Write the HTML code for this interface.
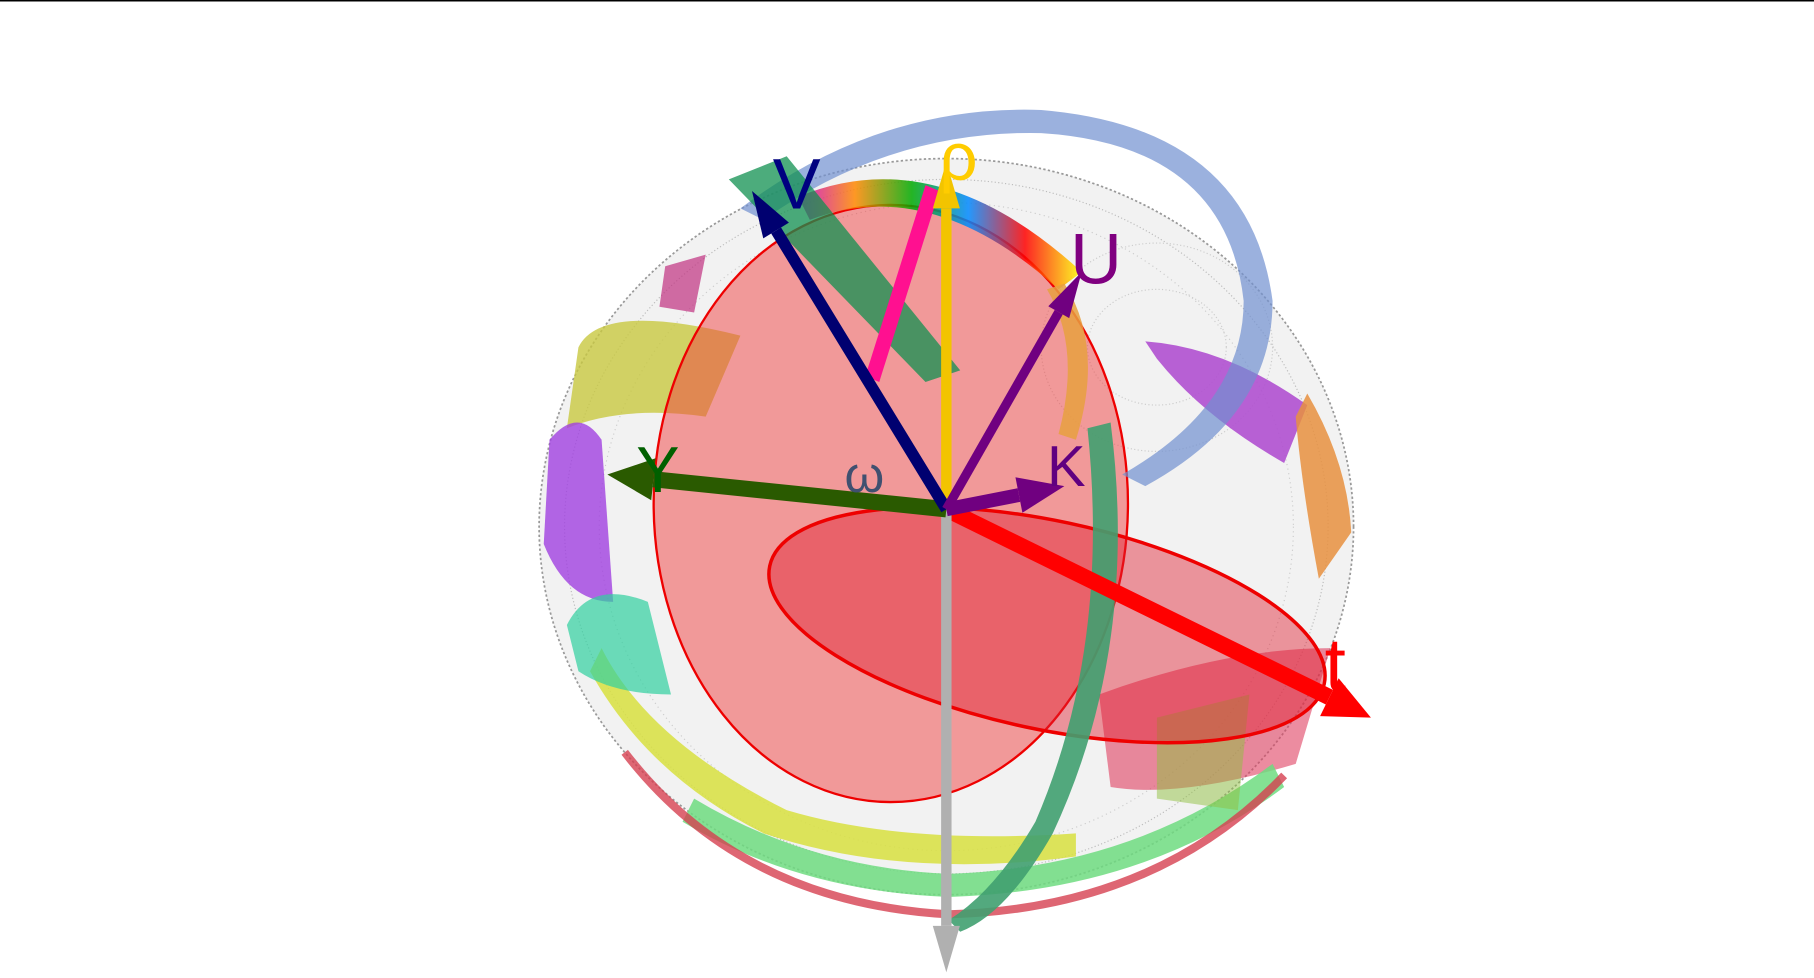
<!DOCTYPE html>
<html><head><meta charset="utf-8"><style>
html,body{margin:0;padding:0;background:#fff;width:1814px;height:978px;overflow:hidden}
svg{display:block}
text{font-family:"Liberation Sans",sans-serif}
</style></head><body>
<svg id="chart" width="1814" height="978" viewBox="0 0 1568 845" preserveAspectRatio="none" xmlns="http://www.w3.org/2000/svg">
<defs>
<linearGradient id="rb" x1="0" x2="1"><stop offset="0" stop-color="#c0c"/><stop offset=".2" stop-color="#f80"/><stop offset=".4" stop-color="#0a0"/><stop offset=".6" stop-color="#08f"/><stop offset=".8" stop-color="#f00"/><stop offset="1" stop-color="#ff0"/></linearGradient>
</defs>
<line x1="0" y1="0.5" x2="1568" y2="0.5" stroke="#000" stroke-width="1.5"/>
<g id="sphere">
<ellipse cx="818" cy="455" rx="352" ry="318" fill="#f2f2f2" stroke="#999" stroke-width="1.5" stroke-dasharray="2 2"/>
<ellipse cx="818" cy="455" rx="330" ry="300" fill="none" stroke="#bbb" stroke-dasharray="1 2"/>
<ellipse cx="818" cy="455" rx="300" ry="280" fill="none" stroke="#ccc" stroke-dasharray="1 3"/>
<ellipse cx="1000" cy="300" rx="100" ry="90" fill="none" stroke="#ccc" stroke-dasharray="1 2"/>
<ellipse cx="1000" cy="300" rx="60" ry="50" fill="none" stroke="#ccc" stroke-dasharray="1 2"/>
<path d="M500,300 Q520,260 640,290 L610,360 Q540,350 490,370Z" fill="#c8c840" opacity=".8"/>
<path d="M475,380 Q500,350 520,380 L530,520 Q490,520 470,470Z" fill="#a040e0" opacity=".8"/>
<path d="M575,230 L610,220 L600,270 L570,265Z" fill="#c03080" opacity=".7"/>
<path d="M990,295 Q1060,300 1130,350 L1110,400 Q1040,360 1000,310Z" fill="#b050d0" opacity=".9"/>
<path d="M1130,340 Q1165,400 1168,460 L1140,500 Q1125,420 1120,360Z" fill="#e89040" opacity=".85"/>
<path d="M950,600 Q1060,560 1150,560 L1120,660 Q1020,690 960,680Z" fill="#e04060" opacity=".6"/>
<path d="M520,560 Q560,640 680,700 Q780,730 930,720 L930,740 Q780,760 660,720 Q560,670 510,580Z" fill="#d8e040" opacity=".85"/>
<path d="M600,690 Q700,750 820,755 Q980,750 1100,660 L1110,680 Q990,770 820,775 Q690,770 590,710Z" fill="#6fdc80" opacity=".85"/>
<path d="M540,650 Q640,780 820,790 Q1000,785 1110,670" fill="none" stroke="#d64050" stroke-width="7" opacity=".8"/>
<path d="M490,540 Q510,500 560,520 L580,600 Q530,600 500,580Z" fill="#30d0a0" opacity=".7"/>
<path d="M1000,620 L1080,600 L1070,700 L1000,690Z" fill="#90c040" opacity=".5"/>
</g>
<ellipse cx="770" cy="435" rx="205" ry="258" fill="#f04040" fill-opacity=".5" stroke="#e00" stroke-width="2"/>
<ellipse cx="905" cy="540" rx="245" ry="90" transform="rotate(12 905 540)" fill="#e02030" fill-opacity=".45" stroke="#e00" stroke-width="3"/>
<path d="M640,180 Q760,90 900,95 Q1080,110 1100,260 Q1100,360 990,420 L970,410 Q1075,350 1075,260 Q1060,125 900,115 Q770,112 660,190Z" fill="#7090d0" opacity=".7"/>
<path d="M690,170 Q810,120 935,235 L915,250 Q805,150 700,190Z" fill="url(#rb)" opacity=".85"/>
<path d="M630,155 L680,135 L830,320 L800,330Z" fill="#109050" opacity=".75"/>
<path d="M940,370 L960,365 Q985,560 910,720 Q870,790 830,805 L820,795 Q860,770 895,710 Q960,560 940,370Z" fill="#40a070" opacity=".9"/>
<path d="M920,245 Q955,300 930,380 L915,375 Q935,300 905,250Z" fill="#e8a040" opacity=".85"/>
<path d="M800,160 L812,165 L760,330 L748,325Z" fill="#ff1090"/>
<g id="axes"></g>
<g id="labels">
<text x="1145" y="597" font-size="66" fill="#f00">t</text>
<text x="925" y="245" font-size="62" fill="#800080">U</text>
<text x="905" y="420" font-size="50" fill="#600080">K</text>
<text x="550" y="425" font-size="56" fill="#006000">Y</text>
<text x="668" y="180" font-size="62" fill="#000080">V</text>
<text x="812" y="155" font-size="58" fill="#ffcc00">ρ</text>
<text x="730" y="425" font-size="44" fill="#405070">ω</text>
</g>
</svg>
<script>
// axis arrows: [direction dx, dy] relative to origin
const axisNames = ['t','down','up','y','v','u','k'];
const axisDx = [367, 0, 0, -293, -168, 117, 102];
const axisDy = [180, 400, -300, -30, -275, -205, -20];
const axisColors = ['#f00','#b0b0b0','#f2c400','#2a5a00','#000070','#700080','#700080'];
const axisWidths = [14, 9, 9, 14, 10, 8, 12];
const ox = 818, oy = 440;
const g = document.getElementById('axes');
const NS = 'http://www.w3.org/2000/svg';
for (let i = 0; i < axisNames.length; i++) {
  const x2 = ox + axisDx[i], y2 = oy + axisDy[i];
  const len = Math.hypot(axisDx[i], axisDy[i]);
  const ux = axisDx[i] / len, uy = axisDy[i] / len;
  const hl = 40, hw = axisWidths[i] * 1.3;
  const bx = x2 - ux * hl, by = y2 - uy * hl;
  const ln = document.createElementNS(NS, 'line');
  
  
  ln.setAttribute('x1', ox); ln.setAttribute('y1', oy);
  ln.setAttribute('x2', bx); ln.setAttribute('y2', by);
  ln.setAttribute('stroke', axisColors[i]);
  ln.setAttribute('stroke-width', axisWidths[i]);
  g.appendChild(ln);
  const hd = document.createElementNS(NS, 'polygon');
  
  
  hd.setAttribute('points', `${x2},${y2} ${bx - uy * hw},${by + ux * hw} ${bx + uy * hw},${by - ux * hw}`);
  hd.setAttribute('fill', axisColors[i]);
  g.appendChild(hd);
}
</script>
</body></html>
